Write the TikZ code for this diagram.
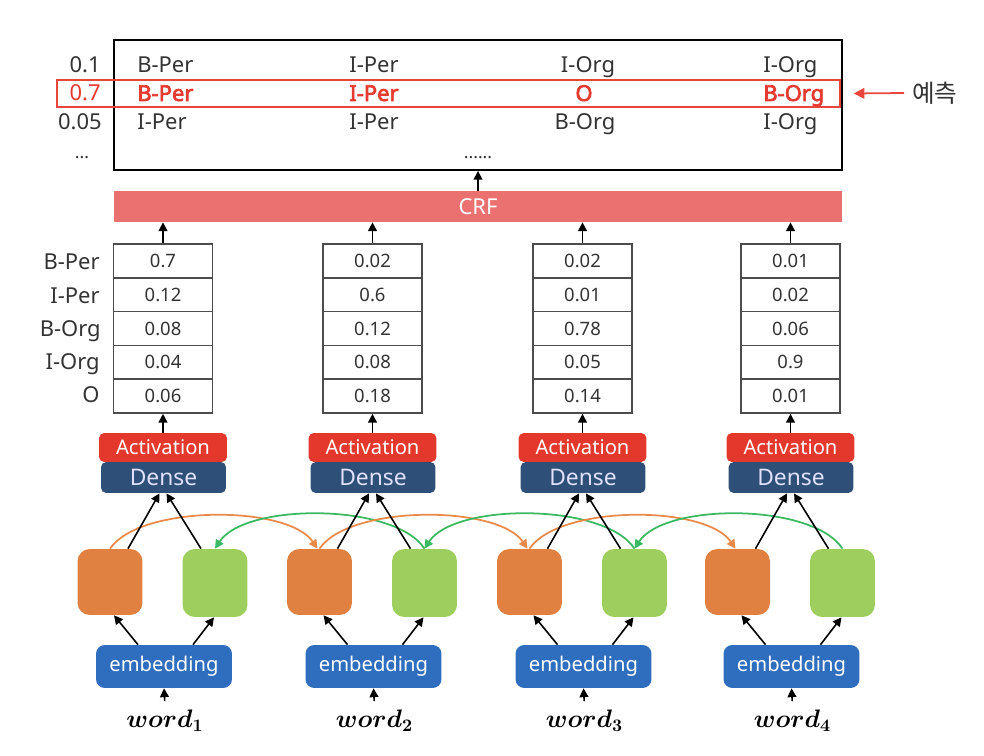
\documentclass[tikz,border=0pt]{standalone}
\usepackage{amsmath,bm}
\usepackage{fontspec}
\setmainfont{Noto Sans}
\newfontfamily\krfont{Noto Sans CJK KR}
\newfontfamily\predfont{Noto Sans}[FakeBold=3]
\usetikzlibrary{arrows.meta,calc}
\definecolor{txtgray}{HTML}{333333}
\definecolor{predred}{HTML}{E53A30}
\definecolor{selred}{HTML}{E8453C}
\definecolor{crfred}{HTML}{EB7171}
\definecolor{actred}{HTML}{E5382C}
\definecolor{densenavy}{HTML}{2D4F78}
\definecolor{embblue}{HTML}{2F6EBE}
\definecolor{lstmorange}{HTML}{E08141}
\definecolor{lstmgreen}{HTML}{9ECF5E}
\definecolor{arcorange}{HTML}{EA8A4A}
\definecolor{arcgreen}{HTML}{3BB862}
\newcommand{\myfs}[1]{\fontsize{#1}{#1}\selectfont}
\begin{document}
\begin{tikzpicture}[x=0.02cm,y=-0.02cm,
  arr/.style={-{Triangle[length=5pt,width=5pt]}, line width=0.9pt, draw=black},
  toptxt/.style={text=txtgray, font=\myfs{12.5pt}, inner sep=0pt, anchor=base west},
  predtxt/.style={text=predred, font=\predfont\myfs{12.5pt}, inner sep=0pt, anchor=base west},
  numtxt/.style={text=txtgray, font=\myfs{12.5pt}, inner sep=0pt, anchor=base east},
  cell/.style={draw=black!70, line width=0.9pt, fill=white, minimum width=1.98cm, minimum height=0.676cm, inner sep=0pt, text=txtgray, font=\myfs{10.5pt}},
  actbox/.style={fill=actred, rounded corners=3pt, minimum width=2.56cm, minimum height=0.58cm, inner sep=0pt, text=white, font=\myfs{11.5pt}},
  densebox/.style={fill=densenavy, rounded corners=3pt, minimum width=2.5cm, minimum height=0.62cm, inner sep=0pt, text=white!88!blue, font=\myfs{13pt}},
  embbox/.style={fill=embblue, rounded corners=5pt, minimum width=2.72cm, minimum height=0.86cm, inner sep=0pt, text=white, font=\myfs{11.5pt}},
  fwdbox/.style={fill=lstmorange, rounded corners=7pt, minimum width=1.3cm, minimum height=1.32cm, inner sep=0pt},
  bwdbox/.style={fill=lstmgreen, rounded corners=7pt, minimum width=1.3cm, minimum height=1.36cm, inner sep=0pt},
  farc/.style={-{Triangle[length=5pt,width=5pt]}, line width=1pt, draw=arcorange},
  barc/.style={-{Triangle[length=5pt,width=5pt]}, line width=1pt, draw=arcgreen}
]
\useasboundingbox (0,0) rectangle (984,756);

% ---------- top result box ----------
\node[draw=black, line width=1.1pt, minimum width=14.56cm, minimum height=2.6cm, inner sep=0pt] (top) at (478,105) {};
\node[draw=selred, line width=1pt, minimum width=15.66cm, minimum height=0.54cm, inner sep=0pt] (sel) at (448.5,93.5) {};

\node[numtxt] (p1) at (101,73) {0.1};
\node[numtxt, text=predred] (p2) at (101,101) {0.7};
\node[numtxt] (p3) at (102,130) {0.05};
\node[text=txtgray, font=\myfs{10pt}, inner sep=0pt, anchor=base] (p4) at (82,159) {...};

\node[toptxt] (t11) at (137,73) {B-Per};
\node[toptxt] (t12) at (349,73) {I-Per};
\node[toptxt, anchor=base] (t13) at (588,73) {I-Org};
\node[toptxt] (t14) at (763,73) {I-Org};

\node[predtxt] (t21) at (137,101) {B-Per};
\node[predtxt] (t22) at (349,101) {I-Per};
\node[predtxt, anchor=base] (t23) at (584,101) {O};
\node[predtxt] (t24) at (763,101) {B-Org};

\node[toptxt] (t31) at (137,130) {I-Per};
\node[toptxt] (t32) at (349,130) {I-Per};
\node[toptxt, anchor=base] (t33) at (585,130) {B-Org};
\node[toptxt] (t34) at (763,130) {I-Org};

\node[text=txtgray, font=\myfs{10pt}, inner sep=0pt, anchor=base] (tdots) at (478,159) {......};

% prediction label
\node[font=\krfont\myfs{14pt}, text=txtgray, inner sep=0pt, anchor=west] (pred) at (912,93) {예측};
\draw[-{Triangle[length=6pt,width=6pt]}, line width=1pt, draw=selred] (pred.west) ++(-8,0) -- ($(sel.east)+(13,0)$);

% ---------- CRF ----------
\node[fill=crfred, minimum width=14.56cm, minimum height=0.62cm, inner sep=0pt, text=white, font=\myfs{12.5pt}] (crf) at (478,206.5) {CRF};
\draw[arr] (crf.north) -- (top.south);

% ---------- row labels ----------
\node[numtxt] (l1) at (100,270) {B-Per};
\node[numtxt] (l2) at (100,304) {I-Per};
\node[numtxt] (l3) at (101,337) {B-Org};
\node[numtxt] (l4) at (100,370) {I-Org};
\node[numtxt] (l5) at (100,403) {O};

% ---------- columns ----------
\foreach \i/\c/\va/\vb/\vc/\vd/\ve in {1/163/0.7/0.12/0.08/0.04/0.06,
                                       2/372.5/0.02/0.6/0.12/0.08/0.18,
                                       3/582.5/0.02/0.01/0.78/0.05/0.14,
                                       4/790.5/0.01/0.02/0.06/0.9/0.01}{
  \node[cell] (c\i-1) at (\c,260.9) {\va};
  \node[cell] (c\i-2) at (\c,294.7) {\vb};
  \node[cell] (c\i-3) at (\c,328.5) {\vc};
  \node[cell] (c\i-4) at (\c,362.3) {\vd};
  \node[cell] (c\i-5) at (\c,396.1) {\ve};
  \draw[arr] (c\i-1.north) -- (c\i-1.north |- crf.south);

  \node[actbox] (act\i) at (\c,447.5) {Activation};
  \node[densebox] (den\i) at (\c+0.5,477.5) {Dense};
  \draw[arr] (act\i.north) -- (c\i-5.south);

  \node[fwdbox] (f\i) at (\c-53,582) {};
  \node[bwdbox] (b\i) at (\c+52,583) {};

  \node[embbox] (e\i) at (\c+1,666.5) {embedding};
  \node[inner sep=2pt, font=\myfs{14pt}] (w\i) at (\c+2,721) {$\bm{word_{\i}}$};
}

% ---------- recurrent arcs ----------
\foreach \i in {1,2,3}{
  \pgfmathtruncatemacro\j{\i+1}
  \draw[farc] (f\i.north) .. controls +(30,-44) and +(-30,-44) .. ($(f\j.north)+(-2,0)$);
  \draw[barc] (b\j.north) .. controls +(-30,-46) and +(30,-46) .. (b\i.north);
}

% ---------- black connectors ----------
\foreach \i in {1,2,3,4}{
  \draw[arr] ($(f\i.north)+(18,0)$) -- ($(den\i.south)+(-4,0)$);
  \draw[arr] ($(b\i.north)+(-14,0)$) -- ($(den\i.south)+(3,0)$);
  \draw[arr] ($(e\i.north)+(-26,0)$) -- ($(f\i.south)+(4,0)$);
  \draw[arr] ($(e\i.north)+(29,0)$) -- ($(b\i.south)+(-1,0)$);
  \draw[arr, shorten <=3pt] (w\i.north) -- (e\i.south);
}
\end{tikzpicture}
\end{document}
